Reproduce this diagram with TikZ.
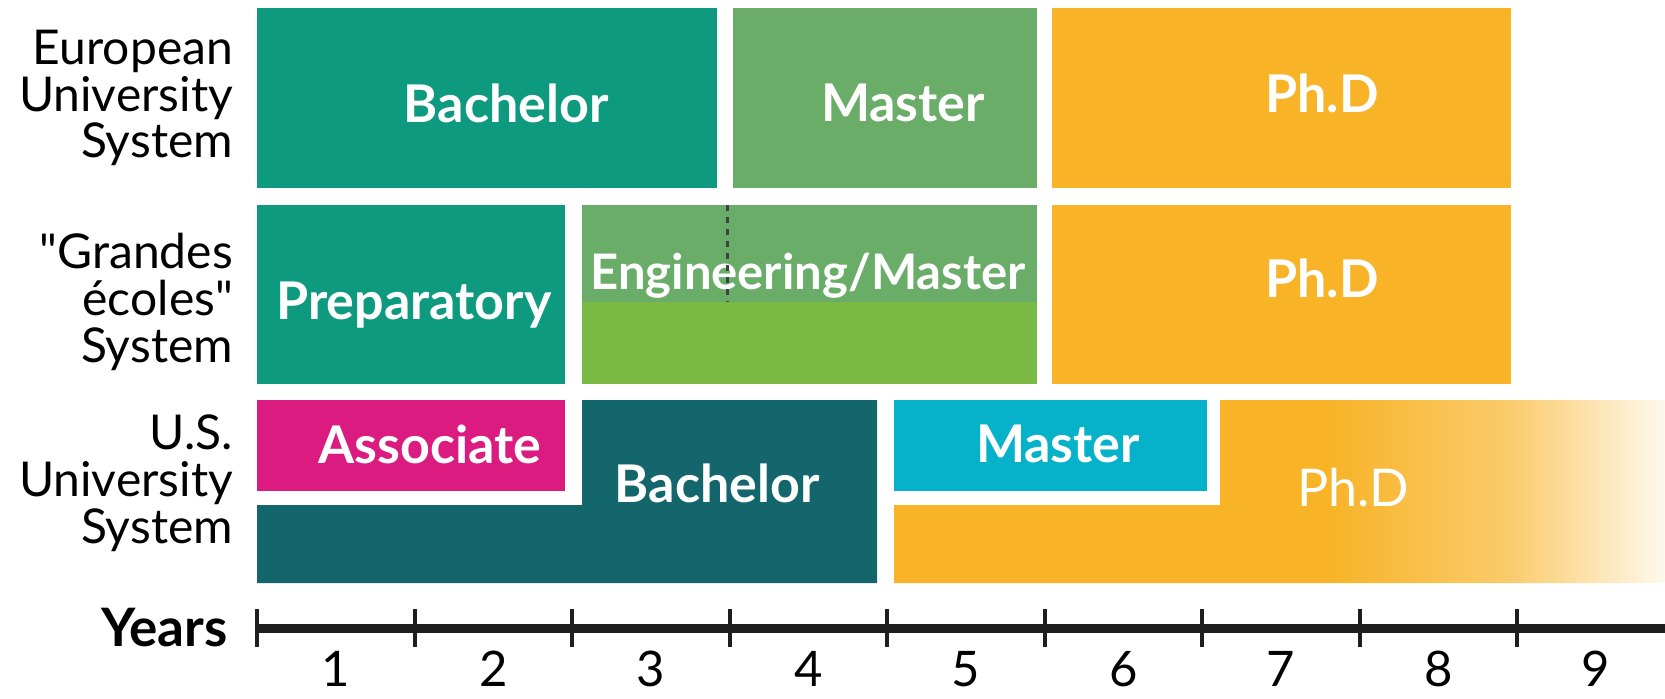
\documentclass[tikz,border=0pt]{standalone}
\usepackage{fontspec}
\setmainfont{Lato}
\usetikzlibrary{positioning}

\definecolor{bachelor}{RGB}{14,154,126}
\definecolor{master}{RGB}{106,173,104}
\definecolor{engineering}{RGB}{122,185,67}
\definecolor{phd}{RGB}{248,179,39}
\definecolor{associate}{RGB}{219,27,127}
\definecolor{usbachelor}{RGB}{19,102,108}
\definecolor{usmaster}{RGB}{5,178,201}
\definecolor{axis}{RGB}{30,30,30}
\pgfdeclarehorizontalshading{phdfade}{100bp}{color(0bp)=(phd); color(53bp)=(phd);
  color(65bp)=(phd!68); color(75bp)=(phd!8); color(100bp)=(phd!8)}

\begin{document}
\begin{tikzpicture}[x=0.5pt,y=-0.5pt,
  block label/.style={text=white,font=\fontsize{26}{28}\selectfont\bfseries},
  row label/.style={anchor=east,align=right,font=\fontsize{24}{23.4}\selectfont},
  year label/.style={anchor=base,inner sep=0pt,font=\fontsize{24.5}{26}\selectfont},
  tick/.style={axis,line width=2pt}]

  \useasboundingbox (0,0) rectangle (1665,698);

  % European university system
  \fill[bachelor] (257,8) rectangle (717,188);
  \fill[master] (733,8) rectangle (1037,188);
  \fill[phd] (1052,8) rectangle (1511,188);

  % grandes ecoles
  \fill[bachelor] (257,205) rectangle (565,384);
  \fill[master] (582,205) rectangle (1037,302);
  \fill[engineering] (582,302) rectangle (1037,384);
  \fill[phd] (1052,205) rectangle (1511,384);

  % U.S. system
  \fill[associate] (257,400) rectangle (565,491);
  \fill[usbachelor] (582,400) -- (877,400) -- (877,583) -- (257,583)
    -- (257,505) -- (582,505) -- cycle;
  \fill[usmaster] (894,400) rectangle (1207,491);
  \shade[shading=phdfade] (1220,400) -- (1665,400) -- (1665,583) -- (894,583)
    -- (894,505) -- (1220,505) -- cycle;

  \node[block label] (eu bachelor) at (506,103) {Bachelor};
  \node[block label] (eu master) at (903,103) {Master};
  \node[block label] (eu phd) at (1322,93) {Ph.D};
  \node[block label] (prep) at (414,305) {Preparatory};
  \node[block label,font=\fontsize{24.5}{26}\selectfont\bfseries] (eng) at (808,276) {Engineering/Master};
  \node[block label] (ge phd) at (1322,278) {Ph.D};
  \node[block label] (us assoc) at (430,444) {Associate};
  \node[block label] (us bachelor) at (717,483) {Bachelor};
  \node[block label] (us master) at (1058,444) {Master};
  \node[block label,font=\fontsize{26}{28}\selectfont] (us phd) at (1353,488) {Ph.D};
  \draw[axis!85,dashed,line width=1.5pt] (727,205) -- (727,302);

  \node[row label] (eu) at (240,98) {European\\University\\System};
  \node[row label] (ge) at (240,302) {\textquotedbl Grandes\\écoles\textquotedbl\\System};
  \node[row label] (us) at (240,483) {U.S.\\University\\System};

  % years axis
  \coordinate (axis start) at (257,628);
  \coordinate (axis end) at (1665,628);
  \draw[axis,line width=4.5pt] (axis start) -- (axis end);
  \foreach \i in {0,...,8}
    \draw[tick] ({257+157.5*\i},609) -- ({257+157.5*\i},647);
  \foreach \i in {1,...,9}
    \node[year label] (y\i) at ({257+157.5*(\i-1)+79},686) {\i};
  \node[anchor=base east,inner sep=0pt,font=\fontsize{26.5}{28}\selectfont\bfseries] (years) at (228,646) {Years};
\end{tikzpicture}
\end{document}
